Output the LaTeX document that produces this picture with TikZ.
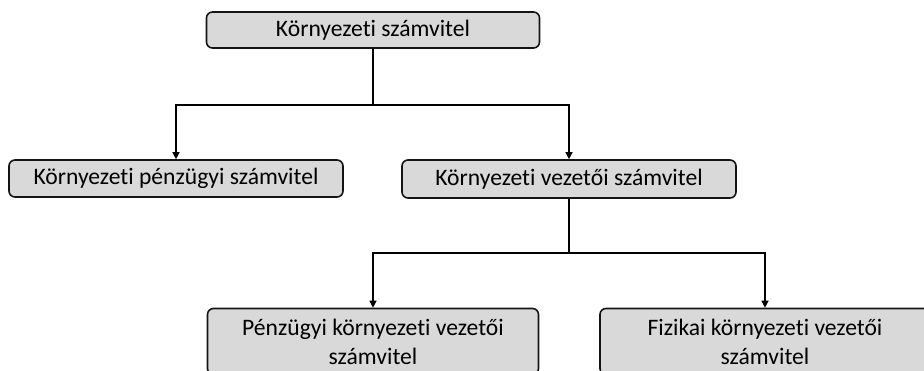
\documentclass[tikz,border=0pt]{standalone}
\usepackage{fontspec}
\setmainfont{Carlito}[Ligatures=NoCommon]
\usetikzlibrary{arrows.meta}
\definecolor{boxfill}{RGB}{217,217,217}
\definecolor{boxline}{RGB}{20,20,20}
\begin{document}
\begin{tikzpicture}[x=1pt,y=-1pt,
  box/.style={draw=boxline,line width=1.6pt,fill=boxfill,rounded corners=6pt,
    align=center,inner sep=0pt,font=\fontsize{23.6}{29}\selectfont},
  conn/.style={line width=1.3pt,draw=black},
  arr/.style={conn,-{Triangle[length=7pt,width=7pt]}}]
\useasboundingbox (0,0) rectangle (924,371);
\clip (0,0) rectangle (924,371);
\node[box,minimum width=333pt,minimum height=36pt] (top) at (373,30) {Környezeti számvitel};
\node[box,minimum width=334pt,minimum height=37pt] (left) at (176,178.5) {Környezeti pénzügyi számvitel};
\node[box,minimum width=334pt,minimum height=38pt] (mid) at (569,179) {Környezeti vezetői számvitel};
\node[box,minimum width=331pt,minimum height=66pt] (bl) at (373,341.5) {Pénzügyi környezeti vezetői\\számvitel};
\node[box,minimum width=330pt,minimum height=66pt] (br) at (765,341.5) {Fizikai környezeti vezetői\\számvitel};
\coordinate (j1) at (373,105);
\coordinate (j2) at (569,253);
\draw[conn] (top.south) -- (j1);
\draw[arr] (j1) -| (left.north);
\draw[arr] (j1) -| (mid.north);
\draw[conn] (mid.south) -- (j2);
\draw[arr] (j2) -| (bl.north);
\draw[arr] (j2) -| (br.north);
\end{tikzpicture}
\end{document}
